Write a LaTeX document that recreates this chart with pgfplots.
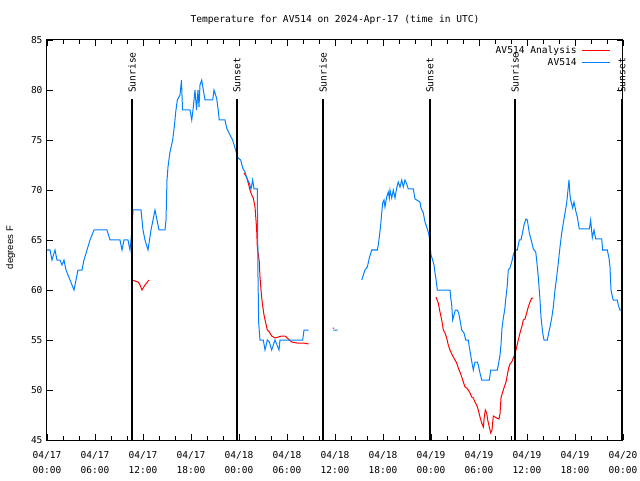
\documentclass[border=0pt]{standalone}
\usepackage{pgfplots}
\pgfplotsset{compat=1.18}
\usepackage{fontspec}
\setmainfont{DejaVu Sans Mono}
\newfontfamily\sansf{Liberation Sans}
\definecolor{avblue}{RGB}{0,128,255}
\definecolor{avred}{RGB}{255,0,0}
\begin{document}
\begin{tikzpicture}
\path[use as bounding box] (-47pt,-40pt) rectangle (593pt,440pt);
\begin{axis}[
  at={(0pt,0pt)}, anchor=south west,
  scale only axis, width=576pt, height=400pt,
  xmin=0, xmax=72, ymin=45, ymax=85,
  xtick={0,6,...,72},
  xticklabels={{04/17\\00:00},{04/17\\06:00},{04/17\\12:00},{04/17\\18:00},{04/18\\00:00},{04/18\\06:00},{04/18\\12:00},{04/18\\18:00},{04/19\\00:00},{04/19\\06:00},{04/19\\12:00},{04/19\\18:00},{04/20\\00:00}},
  minor x tick num=2,
  ytick={45,50,...,85},
  tick align=inside, tick pos=both,
  xticklabel pos=lower, yticklabel pos=left,
  major tick length=6pt, minor tick length=4pt,
  tick style={black, line width=0.8pt},
  axis line style={black, line width=1pt},
  /pgf/number format/assume math mode=true,
  xticklabel style={align=center, font=\fontsize{9.5}{14.5}\selectfont, anchor=north, yshift=-8pt},
  yticklabel style={font=\fontsize{9.5}{11}\selectfont, anchor=east, xshift=-1pt},
  title={Temperature for AV514 on 2024-Apr-17 (time in UTC)},
  title style={at={(axis description cs:0.5,1.035)}, anchor=center, font=\fontsize{9.6}{11}\selectfont},
  ylabel={degrees F},
  ylabel style={at={(axis description cs:-0.063,0.481)}, anchor=center, font=\sansf\fontsize{9.6}{11}\selectfont},
  unbounded coords=jump,
  clip=false,
  legend plot pos=right,
  legend cell align=right,
  legend image code/.code={\draw[#1] (0pt,0pt) -- (28pt,0pt);},
  legend style={draw=none, fill=none, at={(rel axis cs:0.978,0.959)}, anchor=east, inner sep=0pt, row sep=0pt, column sep=3pt, nodes={inner sep=1.5pt}, font=\fontsize{9.6}{11}\selectfont},
]
% AV514 Analysis (red)
\addplot[avred, line width=1pt] coordinates {
(10.625,61) (11.375,60.8) (11.625,60.5) (11.875,60) (12.25,60.5) (12.75,61)
(12.8,nan)
(24.625,71.7) (24.96,71.3) (25.16,70.7) (25.375,70) (25.59,69.5) (25.79,69.2) (26.0,68.3) (26.125,67) (26.21,66) (26.29,64.3) (26.54,62.8) (26.625,61.3) (26.75,60) (26.91,58.7) (27.125,57.5) (27.34,56.7) (27.54,56) (27.79,55.8) (28.09,55.4) (28.5,55.2) (28.91,55.3) (29.34,55.4) (29.75,55.4) (30.16,55.1) (30.59,54.8) (31.21,54.7) (32.04,54.7) (32.71,54.6)
(33,nan)
(35.7,56.2) (35.9,56.2)
(36,nan)
(48.625,59.3) (48.91,58.7) (49.125,57.8) (49.34,57) (49.54,56) (49.75,55.7) (49.96,55.2) (50.16,54.5) (50.375,54) (50.59,53.6) (50.79,53.3) (51.0,53) (51.21,52.7) (51.41,52.2) (51.625,51.8) (51.84,51.3) (52.04,50.8) (52.25,50.3) (52.46,50.2) (52.66,50) (52.875,49.7) (53.09,49.3) (53.29,49.2) (53.5,48.8) (53.71,48.5) (53.91,48) (54.125,47.3) (54.34,46.7) (54.54,46.3) (54.66,47.3) (54.79,48) (54.96,47.7) (55.09,47) (55.29,46.3) (55.46,45.7) (55.625,46) (55.79,47.4) (56.0,47.3) (56.21,47.2) (56.5,47.1) (56.625,47.6) (56.75,49.2) (56.96,49.8) (57.16,50.3) (57.375,50.8) (57.54,51.5) (57.71,52.2) (57.875,52.6) (58.09,52.8) (58.29,53.2) (58.5,53.6) (58.71,54.3) (58.91,55) (59.125,55.7) (59.34,56.3) (59.54,57) (59.75,57.1) (59.96,57.7) (60.16,58.3) (60.375,58.8) (60.59,59.2) (60.79,59.2)
};
\addlegendentry{AV514 Analysis}
% AV514 (blue)
\addplot[avblue, line width=1pt] coordinates {
(0,64) (0.375,64) (0.625,63) (1.0,64) (1.25,63) (1.625,63) (1.875,62.5) (2.125,63) (2.375,62) (2.625,61.5) (2.875,61) (3.125,60.5) (3.375,60) (3.625,61) (3.875,62) (4.375,62) (4.625,63) (5.0,64) (5.375,65) (5.875,66) (7.5,66) (7.875,65) (9.125,65) (9.375,64) (9.625,65) (10.125,65) (10.375,64)
(10.625,66) (10.75,68) (11.75,68) (12.0,66) (12.25,65) (12.625,64) (13.0,66) (13.5,68) (13.75,67) (14.0,66) (14.75,66) (14.875,67) (15.0,71) (15.125,72.3) (15.375,73.8) (15.71,75) (15.91,76.3) (16.09,77.8) (16.29,79) (16.625,79.5) (16.81,81) (16.94,78) (17.875,78) (18.09,77) (18.25,78) (18.5,80) (18.69,78) (18.875,80) (19.0,78.3) (19.125,80.5) (19.34,81) (19.54,80) (19.75,79) (20.71,79) (20.875,80) (21.2,79.2) (21.4,78) (21.53,77) (22.25,77) (22.46,76.2) (22.875,75.5) (23.2,75) (23.5,74.2) (23.875,73.2) (24.21,73) (24.46,72.2) (24.75,71.8) (24.96,71.2) (25.29,70.7) (25.5,70.1) (25.71,71) (25.875,70.1) (26.29,70.1) (26.375,61.3) (26.46,56.7) (26.625,55) (27.04,55) (27.25,54) (27.54,55) (27.79,54.8) (28.09,54) (28.5,55) (28.75,54.5) (29.0,54) (29.125,55) (31.96,55) (32.125,56) (32.71,56)
(33,nan)
(35.79,56) (36.34,56)
(37,nan)
(39.34,61) (39.54,61.5) (39.75,62) (40.04,62.3) (40.29,63.2) (40.59,64) (41.29,64) (41.41,64.5) (41.54,65.3) (41.71,66.5) (41.84,67.7) (41.96,68.7) (42.125,69) (42.25,68.3) (42.46,69.3) (42.66,69.8) (42.79,69.2) (42.875,70) (43.09,69.2) (43.29,70) (43.5,69.2) (43.71,70.2) (43.91,70.8) (44.125,70.3) (44.34,71) (44.54,70.3) (44.75,71) (44.96,70.6) (45.16,70.1) (45.79,70.1) (46.0,69.1) (46.625,68.8) (46.75,68.2) (47.04,67.7) (47.25,66.8) (47.46,66.3) (47.66,65.8) (47.79,65.3) (47.875,64.5) (48.0,63.5) (48.21,63) (48.375,62.5) (48.54,61.5) (48.625,61.1) (48.79,60) (50.375,60) (50.46,59.3) (50.59,58.5) (50.71,57) (50.875,57.5) (51.04,58) (51.29,58) (51.46,57.7) (51.625,57) (51.84,56) (52.125,55.7) (52.34,55) (52.66,55) (52.79,54.3) (52.96,53.5) (53.125,52.7) (53.29,52) (53.5,52.8) (53.79,52.8) (53.91,52.5) (54.125,51.7) (54.34,51) (55.29,51) (55.46,52) (56.29,52) (56.46,52.7) (56.625,53.5) (56.75,54.5) (56.875,56.2) (57.04,57.2) (57.21,58) (57.375,59.3) (57.54,60.5) (57.66,62) (57.875,62.2) (58.09,62.8) (58.29,63.5) (58.5,64) (58.79,64) (59.04,65) (59.25,65) (59.46,65.8) (59.625,66.5) (59.875,67.1) (60.04,67) (60.29,65.7) (60.59,64.8) (60.79,64.1) (61.09,63.8) (61.21,63) (61.41,61.3) (61.625,59) (61.75,57.3) (61.96,55.7) (62.125,55) (62.54,55) (62.71,55.7) (62.875,56.3) (63.09,57.2) (63.29,58.3) (63.5,60) (63.71,61.3) (63.91,62.7) (64.125,64.3) (64.34,65.7) (64.54,66.7) (64.75,67.7) (64.96,68.7) (65.125,70) (65.25,71) (65.375,69.5) (65.46,69) (65.71,68.2) (65.875,68.8) (66.125,67.8) (66.29,67.3) (66.54,66.1) (67.79,66.1) (67.96,67) (68.16,65.2) (68.375,66) (68.59,65.1) (69.34,65.1) (69.46,64) (70.04,64) (70.25,63.2) (70.375,62.3) (70.5,60) (70.71,59.2) (70.79,59) (71.29,59) (71.41,58.5) (71.625,58) (71.875,58)
};
\addlegendentry{AV514}
% sunrise / sunset markers
\addplot[black, line width=1.1pt, forget plot] coordinates {(10.625,45) (10.625,79.1)};
\addplot[black, line width=1.1pt, forget plot] coordinates {(23.75,45) (23.75,79.1)};
\addplot[black, line width=1.1pt, forget plot] coordinates {(34.5,45) (34.5,79.1)};
\addplot[black, line width=1.1pt, forget plot] coordinates {(47.875,45) (47.875,79.1)};
\addplot[black, line width=1.1pt, forget plot] coordinates {(58.5,45) (58.5,79.1)};
\addplot[black, line width=1.1pt, forget plot] coordinates {(71.875,45) (71.875,79.1)};
\node[rotate=90, anchor=west, inner sep=0pt, font=\fontsize{9.6}{11}\selectfont] at (axis cs:10.625,79.7) {Sunrise};
\node[rotate=90, anchor=west, inner sep=0pt, font=\fontsize{9.6}{11}\selectfont] at (axis cs:23.75,79.7) {Sunset};
\node[rotate=90, anchor=west, inner sep=0pt, font=\fontsize{9.6}{11}\selectfont] at (axis cs:34.5,79.7) {Sunrise};
\node[rotate=90, anchor=west, inner sep=0pt, font=\fontsize{9.6}{11}\selectfont] at (axis cs:47.875,79.7) {Sunset};
\node[rotate=90, anchor=west, inner sep=0pt, font=\fontsize{9.6}{11}\selectfont] at (axis cs:58.5,79.7) {Sunrise};
\node[rotate=90, anchor=west, inner sep=0pt, font=\fontsize{9.6}{11}\selectfont] at (axis cs:71.875,79.7) {Sunset};
\end{axis}
\end{tikzpicture}
\end{document}
